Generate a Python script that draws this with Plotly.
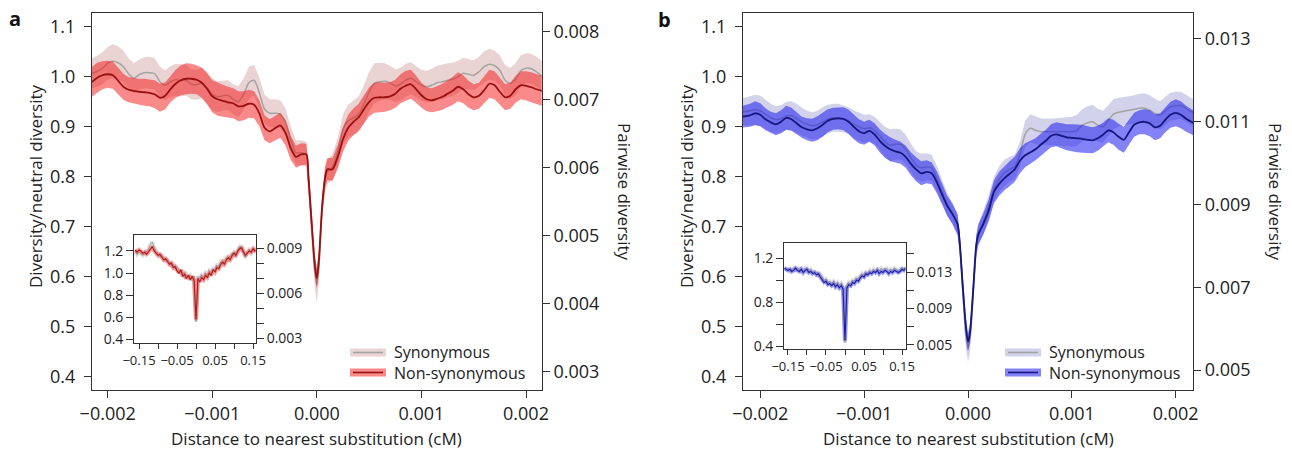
import numpy as np
import plotly.graph_objects as go

W, H = 1292, 450

# ---------------- data ----------------
# distance to nearest substitution, in units of 1e-5 cM
dist_e5 = [-220] + list(range(-215, -5, 5)) + [-8, -5, -2, 0, 2, 5, 8] + list(range(10, 220, 5)) + [220]

# panel a (red) : diversity / neutral diversity
a_nonsyn = [0.988,
    0.99, 0.998, 1.003, 1.005, 1.003, 0.992, 0.980, 0.974, 0.972, 0.970,
    0.969, 0.968, 0.965, 0.958, 0.962, 0.975, 0.986, 0.993, 0.996, 0.996,
    0.994, 0.988, 0.976, 0.961, 0.955, 0.952, 0.949, 0.947, 0.941, 0.942,
    0.946, 0.944, 0.927, 0.898, 0.891, 0.897, 0.903, 0.888, 0.858, 0.840,
    0.845, 0.845,
    0.80, 0.71, 0.625, 0.597, 0.635, 0.74, 0.80,
    0.815, 0.815, 0.84, 0.875, 0.898, 0.91, 0.919, 0.935, 0.95, 0.958,
    0.959, 0.959, 0.961, 0.966, 0.976, 0.982, 0.985, 0.975, 0.963, 0.955,
    0.953, 0.956, 0.960, 0.966, 0.972, 0.980, 0.975, 0.965, 0.959, 0.962,
    0.973, 0.986, 0.983, 0.970, 0.959, 0.962, 0.975, 0.983, 0.982, 0.979,
    0.975, 0.972,
    0.970]
a_nonsyn_err = [0.03,
    0.03, 0.03, 0.028, 0.027, 0.027, 0.026, 0.026, 0.025, 0.025, 0.026,
    0.027, 0.027, 0.028, 0.028, 0.027, 0.026, 0.028, 0.03, 0.031, 0.03,
    0.029, 0.03, 0.031, 0.032, 0.033, 0.032, 0.031, 0.03, 0.03, 0.029,
    0.028, 0.027, 0.026, 0.025, 0.024, 0.024, 0.025, 0.025, 0.024, 0.022,
    0.022, 0.021,
    0.02, 0.02, 0.02, 0.02, 0.02, 0.02, 0.021,
    0.022, 0.023, 0.024, 0.025, 0.026, 0.027, 0.027, 0.028, 0.029, 0.03,
    0.03, 0.029, 0.028, 0.028, 0.029, 0.03, 0.029, 0.027, 0.025, 0.024,
    0.024, 0.025, 0.026, 0.027, 0.028, 0.029, 0.028, 0.027, 0.026, 0.026,
    0.027, 0.028, 0.028, 0.027, 0.026, 0.026, 0.027, 0.028, 0.029, 0.03,
    0.03, 0.03,
    0.03]
a_syn = [1.005,
    1.007, 1.011, 1.017, 1.027, 1.031, 1.028, 1.02, 1.006, 0.997, 1.004,
    1.008, 1.008, 1.006, 0.99, 0.983, 0.99, 0.994, 0.993, 0.993, 0.985,
    0.984, 0.987, 0.978, 0.965, 0.96, 0.962, 0.963, 0.955, 0.95, 0.965,
    0.988, 0.993, 0.968, 0.935, 0.927, 0.927, 0.925, 0.91, 0.875, 0.848,
    0.848, 0.845,
    0.795, 0.70, 0.61, 0.583, 0.62, 0.735, 0.795,
    0.81, 0.82, 0.85, 0.895, 0.912, 0.918, 0.925, 0.945, 0.97, 0.987,
    0.99, 0.991, 0.988, 0.982, 0.985, 0.993, 0.997, 0.99, 0.983, 0.98,
    0.983, 0.988, 0.99, 0.993, 0.995, 1.0, 1.007, 1.005, 1.003, 1.01,
    1.02, 1.025, 1.022, 1.013, 0.993, 0.987, 0.995, 1.012, 1.017, 1.016,
    1.01, 1.002,
    1.0]
a_syn_err = [0.03,
    0.03, 0.031, 0.032, 0.033, 0.034, 0.033, 0.032, 0.031, 0.03, 0.03,
    0.031, 0.032, 0.031, 0.03, 0.03, 0.031, 0.032, 0.032, 0.031, 0.03,
    0.03, 0.031, 0.032, 0.032, 0.031, 0.03, 0.03, 0.03, 0.031, 0.032,
    0.032, 0.031, 0.03, 0.029, 0.028, 0.028, 0.028, 0.027, 0.026, 0.025,
    0.025, 0.025,
    0.025, 0.025, 0.03, 0.035, 0.03, 0.025, 0.025,
    0.025, 0.026, 0.028, 0.03, 0.032, 0.034, 0.036, 0.038, 0.04, 0.04,
    0.038, 0.036, 0.034, 0.033, 0.033, 0.033, 0.032, 0.031, 0.031, 0.032,
    0.033, 0.034, 0.035, 0.034, 0.033, 0.032, 0.031, 0.03, 0.03, 0.03,
    0.031, 0.031, 0.03, 0.03, 0.03, 0.031, 0.032, 0.031, 0.03, 0.03,
    0.03, 0.03,
    0.03]

# panel b (blue)
b_nonsyn = [0.92,
    0.921, 0.923, 0.927, 0.924, 0.915, 0.909, 0.905, 0.91, 0.918, 0.915,
    0.907, 0.899, 0.895, 0.893, 0.897, 0.904, 0.912, 0.916, 0.917, 0.916,
    0.91, 0.9, 0.891, 0.887, 0.892, 0.885, 0.872, 0.862, 0.855, 0.851,
    0.848, 0.84, 0.826, 0.815, 0.807, 0.81, 0.807, 0.789, 0.765, 0.742,
    0.726, 0.705,
    0.67, 0.58, 0.50, 0.47, 0.49, 0.575, 0.665,
    0.685, 0.707, 0.733, 0.77, 0.786, 0.797, 0.806, 0.815, 0.832, 0.843,
    0.849, 0.855, 0.864, 0.872, 0.882, 0.885, 0.882, 0.879, 0.878, 0.877,
    0.876, 0.874, 0.873, 0.877, 0.884, 0.893, 0.889, 0.88, 0.874, 0.889,
    0.904, 0.909, 0.91, 0.907, 0.899, 0.902, 0.914, 0.924, 0.928, 0.924,
    0.916, 0.91,
    0.905]
b_nonsyn_err = [0.022,
    0.022, 0.023, 0.024, 0.023, 0.022, 0.021, 0.022, 0.023, 0.024, 0.023,
    0.022, 0.021, 0.022, 0.023, 0.024, 0.024, 0.023, 0.022, 0.022, 0.023,
    0.024, 0.025, 0.024, 0.023, 0.022, 0.022, 0.023, 0.024, 0.024, 0.023,
    0.022, 0.022, 0.023, 0.024, 0.024, 0.023, 0.022, 0.022, 0.021, 0.02,
    0.02, 0.02,
    0.019, 0.018, 0.018, 0.018, 0.018, 0.018, 0.019,
    0.02, 0.021, 0.022, 0.023, 0.024, 0.024, 0.025, 0.025, 0.025, 0.024,
    0.023, 0.022, 0.022, 0.022, 0.023, 0.024, 0.025, 0.026, 0.027, 0.028,
    0.028, 0.027, 0.026, 0.025, 0.024, 0.024, 0.025, 0.026, 0.026, 0.025,
    0.024, 0.024, 0.025, 0.026, 0.026, 0.025, 0.025, 0.026, 0.027, 0.027,
    0.026, 0.025,
    0.025]
b_syn = [0.93,
    0.93, 0.932, 0.934, 0.932, 0.925, 0.918, 0.914, 0.916, 0.922, 0.922,
    0.917, 0.91, 0.905, 0.902, 0.904, 0.91, 0.915, 0.918, 0.918, 0.916,
    0.912, 0.905, 0.9, 0.896, 0.898, 0.893, 0.882, 0.87, 0.863, 0.865,
    0.865, 0.855, 0.838, 0.823, 0.818, 0.82, 0.818, 0.797, 0.77, 0.745,
    0.726, 0.703,
    0.665, 0.57, 0.48, 0.455, 0.475, 0.565, 0.66,
    0.685, 0.71, 0.74, 0.775, 0.795, 0.808, 0.815, 0.82, 0.845, 0.885,
    0.897, 0.893, 0.89, 0.89, 0.89, 0.89, 0.89, 0.89, 0.89, 0.893,
    0.903, 0.908, 0.91, 0.903, 0.9, 0.912, 0.925, 0.929, 0.931, 0.933,
    0.935, 0.937, 0.937, 0.933, 0.927, 0.923, 0.932, 0.94, 0.942, 0.943,
    0.937, 0.93,
    0.928]
b_syn_err = [0.028,
    0.028, 0.029, 0.03, 0.03, 0.029, 0.028, 0.027, 0.027, 0.028, 0.029,
    0.029, 0.028, 0.027, 0.027, 0.028, 0.029, 0.029, 0.028, 0.028, 0.027,
    0.027, 0.028, 0.028, 0.028, 0.027, 0.027, 0.028, 0.03, 0.032, 0.031,
    0.03, 0.029, 0.028, 0.028, 0.028, 0.027, 0.026, 0.025, 0.024, 0.023,
    0.022, 0.022,
    0.022, 0.022, 0.023, 0.025, 0.023, 0.022, 0.022,
    0.022, 0.023, 0.024, 0.025, 0.026, 0.026, 0.025, 0.024, 0.025, 0.027,
    0.028, 0.028, 0.027, 0.026, 0.026, 0.027, 0.028, 0.029, 0.03, 0.031,
    0.032, 0.033, 0.034, 0.033, 0.032, 0.031, 0.03, 0.029, 0.028, 0.028,
    0.028, 0.029, 0.03, 0.03, 0.029, 0.028, 0.028, 0.028, 0.028, 0.027,
    0.027, 0.027,
    0.027]

# insets: wide view, distance in cM
inset_x = [round(k * 0.005, 3) for k in range(-32, 33)]
ia_nonsyn = [1.21, 1.19, 1.21, 1.20, 1.18, 1.19, 1.17, 1.19, 1.22, 1.24,
             1.20, 1.18, 1.16, 1.17, 1.14, 1.12, 1.13, 1.10, 1.08, 1.09,
             1.05, 1.06, 1.02, 1.00, 1.03, 0.97, 0.99, 0.95, 0.98, 0.94,
             0.97, 0.93, 0.58, 0.95, 0.92, 0.96, 0.94, 0.98, 0.96, 1.00,
             0.98, 1.03, 1.01, 1.05, 1.04, 1.08, 1.10, 1.08, 1.12, 1.14,
             1.12, 1.16, 1.18, 1.16, 1.20, 1.22, 1.23, 1.19, 1.16, 1.18,
             1.20, 1.19, 1.22, 1.20, 1.21]
ia_syn = [1.20, 1.17, 1.19, 1.18, 1.16, 1.18, 1.20, 1.22, 1.26, 1.28,
          1.23, 1.20, 1.17, 1.15, 1.16, 1.13, 1.11, 1.12, 1.09, 1.07,
          1.08, 1.04, 1.05, 1.02, 1.00, 1.01, 0.97, 0.99, 0.96, 0.98,
          0.95, 0.97, 0.56, 0.97, 0.95, 0.98, 0.96, 1.00, 0.98, 1.02,
          1.00, 1.04, 1.03, 1.07, 1.06, 1.10, 1.08, 1.12, 1.14, 1.12,
          1.16, 1.18, 1.15, 1.19, 1.21, 1.24, 1.22, 1.18, 1.15, 1.19,
          1.21, 1.18, 1.20, 1.22, 1.20]
ib_nonsyn = [1.11, 1.10, 1.09, 1.10, 1.08, 1.09, 1.11, 1.09, 1.08, 1.10,
             1.07, 1.09, 1.10, 1.07, 1.08, 1.06, 1.07, 1.05, 1.06, 1.03,
             1.00, 0.98, 0.99, 0.96, 0.97, 0.95, 0.97, 0.94, 0.96, 0.93,
             0.95, 0.92, 0.45, 0.93, 0.96, 0.95, 0.98, 0.97, 1.00, 0.99,
             1.02, 1.04, 1.03, 1.06, 1.05, 1.07, 1.06, 1.08, 1.07, 1.09,
             1.06, 1.08, 1.07, 1.09, 1.08, 1.06, 1.08, 1.07, 1.09, 1.08,
             1.07, 1.08, 1.10, 1.09, 1.11]
ib_syn = [1.10, 1.11, 1.10, 1.08, 1.10, 1.11, 1.09, 1.10, 1.11, 1.08,
          1.10, 1.11, 1.08, 1.09, 1.10, 1.07, 1.08, 1.07, 1.04, 1.05,
          1.02, 1.00, 1.01, 0.98, 0.99, 0.97, 0.99, 0.96, 0.98, 0.95,
          0.97, 0.94, 0.43, 0.95, 0.98, 0.96, 1.00, 0.99, 1.02, 1.01,
          1.04, 1.06, 1.04, 1.07, 1.06, 1.09, 1.07, 1.10, 1.08, 1.10,
          1.09, 1.11, 1.09, 1.10, 1.11, 1.09, 1.10, 1.09, 1.11, 1.10,
          1.09, 1.10, 1.11, 1.10, 1.12]

legend_labels = ["Synonymous", "Non-synonymous"]

for arr in (a_nonsyn, a_nonsyn_err, a_syn, a_syn_err, b_nonsyn, b_nonsyn_err, b_syn, b_syn_err):
    assert len(arr) == len(dist_e5), (len(arr), len(dist_e5))
for arr in (ia_nonsyn, ia_syn, ib_nonsyn, ib_syn):
    assert len(arr) == len(inset_x), len(arr)

dist_cm = [d * 1e-5 for d in dist_e5]

# ---------------- styles ----------------
FONT = "Open Sans"
TXT = "#222222"
AX = "#333333"
SYN_LINE = "#a3a3a3"
A_SYN_BAND = "rgba(200,140,140,0.38)"
A_NON_BAND = "rgba(245,20,20,0.5)"
A_NON_LINE = "#981010"
B_SYN_BAND = "rgba(130,130,200,0.36)"
B_NON_BAND = "rgba(30,30,240,0.55)"
B_NON_LINE = "#16167e"

def px(v):
    return v / W

def py(v):
    return 1 - v / H

fig = go.Figure()

def band(x, y, e, color, xa, ya):
    up = [a + b for a, b in zip(y, e)]
    lo = [a - b for a, b in zip(y, e)]
    fig.add_trace(go.Scatter(x=list(x) + list(x)[::-1], y=up + lo[::-1], fill="toself",
                             fillcolor=color, line=dict(width=0), mode="lines",
                             xaxis=xa, yaxis=ya, showlegend=False, hoverinfo="skip"))

def line(x, y, color, width, xa, ya, shape="spline"):
    fig.add_trace(go.Scatter(x=x, y=y, mode="lines",
                             line=dict(color=color, width=width, shape=shape, smoothing=0.7 if shape == "spline" else None),
                             xaxis=xa, yaxis=ya, showlegend=False, hoverinfo="skip"))

# panel a
band(dist_cm, a_syn, a_syn_err, A_SYN_BAND, "x", "y")
line(dist_cm, a_syn, SYN_LINE, 1.5, "x", "y")
band(dist_cm, a_nonsyn, a_nonsyn_err, A_NON_BAND, "x", "y")
line(dist_cm, a_nonsyn, A_NON_LINE, 1.8, "x", "y")
# panel b
band(dist_cm, b_syn, b_syn_err, B_SYN_BAND, "x2", "y3")
line(dist_cm, b_syn, SYN_LINE, 1.5, "x2", "y3")
band(dist_cm, b_nonsyn, b_nonsyn_err, B_NON_BAND, "x2", "y3")
line(dist_cm, b_nonsyn, B_NON_LINE, 1.8, "x2", "y3")
# insets
line(inset_x, ia_syn, "rgba(150,150,150,0.3)", 4, "x3", "y5", "linear")
line(inset_x, ia_nonsyn, "rgba(240,60,60,0.5)", 4, "x3", "y5", "linear")
line(inset_x, ia_syn, "rgba(140,140,140,0.7)", 1, "x3", "y5", "linear")
line(inset_x, ia_nonsyn, "#b81414", 1.1, "x3", "y5", "linear")
line(inset_x, ib_syn, "rgba(150,150,150,0.3)", 4, "x4", "y7", "linear")
line(inset_x, ib_nonsyn, "rgba(60,60,240,0.5)", 4, "x4", "y7", "linear")
line(inset_x, ib_syn, "rgba(140,140,140,0.7)", 1, "x4", "y7", "linear")
line(inset_x, ib_nonsyn, "#1c1ca0", 1.1, "x4", "y7", "linear")
# empty traces so the right-hand (pairwise diversity) axes exist
for xa, ya in (("x", "y2"), ("x2", "y4"), ("x3", "y6"), ("x4", "y8")):
    fig.add_trace(go.Scatter(x=[], y=[], xaxis=xa, yaxis=ya, showlegend=False, hoverinfo="skip"))

# ---------------- axes ----------------
def axcommon(size=18, ticklen=7):
    return dict(showline=True, linecolor=AX, linewidth=1.3, ticks="outside", ticklen=ticklen,
                tickwidth=1.2, tickcolor=AX, showgrid=False, zeroline=False, automargin=False,
                tickfont=dict(family=FONT, size=size, color=TXT))

dom_a = [px(92), px(541.7)]
dom_b = [px(743), px(1193)]
dom_y = [py(390), py(13)]
xt_vals = [-0.002, -0.001, 0.0, 0.001, 0.002]
xt_text = ["\u22120.002", "\u22120.001", "0.000", "0.001", "0.002"]
yl_vals = [0.4, 0.5, 0.6, 0.7, 0.8, 0.9, 1.0, 1.1]
yl_text = ["0.4", "0.5", "0.6", "0.7", "0.8", "0.9", "1.0", "1.1"]

fig.update_layout(
    xaxis=dict(domain=dom_a, range=[-0.00215, 0.00215], anchor="y", mirror=True,
               tickvals=xt_vals, ticktext=xt_text, **axcommon()),
    yaxis=dict(domain=dom_y, range=[0.374, 1.1274], anchor="x", tickvals=yl_vals,
               ticktext=yl_text, ticklabelstandoff=5, **axcommon()),
    yaxis2=dict(domain=dom_y, range=[0.002731, 0.008275], anchor="x", overlaying="y", side="right",
                tickvals=[0.003, 0.004, 0.005, 0.006, 0.007, 0.008],
                ticktext=["0.003", "0.004", "0.005", "0.006", "0.007", "0.008"], **axcommon()),
    xaxis2=dict(domain=dom_b, range=[-0.0021666, 0.0021666], anchor="y3", mirror=True,
                tickvals=xt_vals, ticktext=xt_text, **axcommon()),
    yaxis3=dict(domain=dom_y, range=[0.374, 1.1274], anchor="x2", tickvals=yl_vals,
                ticktext=yl_text, ticklabelstandoff=5, **axcommon()),
    yaxis4=dict(domain=dom_y, range=[0.004517, 0.013626], anchor="x2", overlaying="y3", side="right",
                tickvals=[0.005, 0.007, 0.009, 0.011, 0.013],
                ticktext=["0.005", "0.007", "0.009", "0.011", "0.013"], **axcommon()),
    # inset a
    xaxis3=dict(domain=[px(134.3), px(255.7)], range=[-0.1624, 0.1571], anchor="y5", mirror=True,
                tickvals=[-0.15, -0.1, -0.05, 0, 0.05, 0.1, 0.15],
                ticktext=["\u22120.15", "", "\u22120.05", "", "0.05", "", "0.15"], **axcommon(13, 5)),
    yaxis5=dict(domain=[py(343.3), py(235.3)], range=[0.364, 1.342], anchor="x3",
                tickvals=[0.4, 0.6, 0.8, 1.0, 1.2], ticktext=["0.4", "0.6", "0.8", "1.0", "1.2"],
                **axcommon(14, 7)),
    yaxis6=dict(domain=[py(343.3), py(235.3)], range=[0.002667, 0.009867], anchor="x3",
                overlaying="y5", side="right",
                tickvals=[0.003, 0.004, 0.005, 0.006, 0.007, 0.008, 0.009],
                ticktext=["0.003", "", "", "0.006", "", "", "0.009"], **axcommon(14, 7)),
    # inset b
    xaxis4=dict(domain=[px(784.3), px(905.5)], range=[-0.1597, 0.1592], anchor="y7", mirror=True,
                tickvals=[-0.15, -0.1, -0.05, 0, 0.05, 0.1, 0.15],
                ticktext=["\u22120.15", "", "\u22120.05", "", "0.05", "", "0.15"], **axcommon(13, 5)),
    yaxis7=dict(domain=[py(349), py(243.3)], range=[0.373, 1.337], anchor="x4",
                tickvals=[0.4, 0.6, 0.8, 1.0, 1.2], ticktext=["0.4", "", "0.8", "", "1.2"],
                **axcommon(14, 7)),
    yaxis8=dict(domain=[py(349), py(243.3)], range=[0.00456, 0.01617], anchor="x4",
                overlaying="y7", side="right",
                tickvals=[0.005, 0.007, 0.009, 0.011, 0.013, 0.015],
                ticktext=["0.005", "", "0.009", "", "0.013", ""], **axcommon(14, 7)),
)

# ---------------- annotations / legend ----------------
ann = []
def text(x, y, s, size=16, angle=0, xanchor="center", bold=False, align="center"):
    ann.append(dict(x=px(x), y=py(y), xref="paper", yref="paper", text=("<b>%s</b>" % s) if bold else s,
                    showarrow=False, textangle=angle, xanchor=xanchor, yanchor="middle", align=align,
                    font=dict(family=FONT, size=size, color="#111111" if bold else TXT)))

text(15, 18, "a", 20, bold=True)
text(664, 20, "b", 20, bold=True)
for cx, lx, rx in ((316, 35, 625), (968, 686, 1276)):
    text(cx, 438, "Distance to nearest substitution (cM)", 17)
    text(lx, 186, "Diversity/neutral diversity", 17, -90)
    text(rx, 192, "Pairwise diversity", 17, 90)

shapes = []
for x0, syn_band, non_band, non_line in ((350, A_SYN_BAND, A_NON_BAND, A_NON_LINE),
                                         (1005, B_SYN_BAND, B_NON_BAND, B_NON_LINE)):
    for yc, bandc, linec in ((352.5, syn_band, SYN_LINE), (372.5, non_band, non_line)):
        shapes.append(dict(type="rect", xref="paper", yref="paper", x0=px(x0), x1=px(x0 + 36),
                           y0=py(yc + 4), y1=py(yc - 4), fillcolor=bandc, line=dict(width=0)))
        shapes.append(dict(type="line", xref="paper", yref="paper", x0=px(x0 + 3), x1=px(x0 + 33),
                           y0=py(yc), y1=py(yc), line=dict(color=linec, width=1.6)))
    text(x0 + 42, 362, "<br>".join(legend_labels), 16, xanchor="left", align="left")

fig.update_layout(width=W, height=H, margin=dict(l=0, r=0, t=0, b=0, autoexpand=False),
                  paper_bgcolor="white", plot_bgcolor="white", showlegend=False,
                  annotations=ann, shapes=shapes, font=dict(family=FONT, color=TXT))

fig.write_html("out.html", config={"displayModeBar": False},
               post_script="document.body.style.margin='0';document.body.style.overflow='hidden';")
